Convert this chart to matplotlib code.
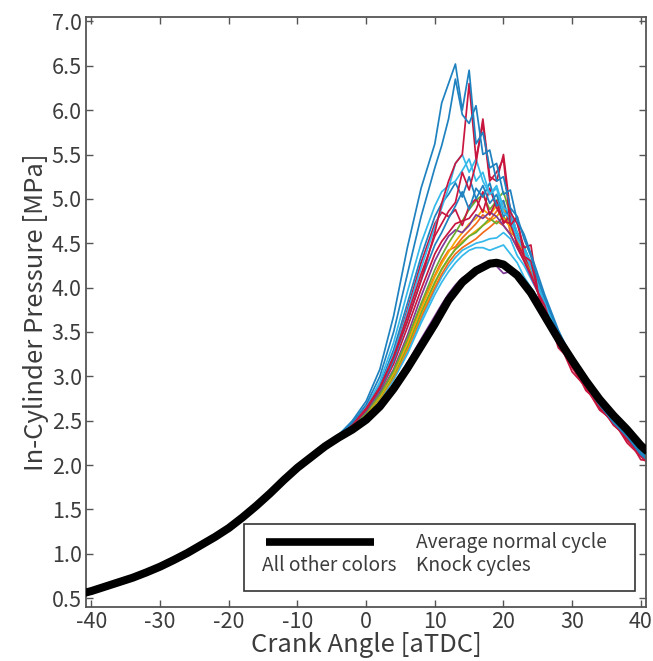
import matplotlib
matplotlib.use("Agg")
import matplotlib.pyplot as plt
from matplotlib.patches import Rectangle
from matplotlib.lines import Line2D

plt.rcParams['font.family'] = ['Noto Sans CJK JP', 'DejaVu Sans']

# ---------------- data ----------------
avg_x = [-41, -40, -38, -36, -34, -32, -30, -28, -26, -24, -22, -20, -18, -16, -14, -12, -10, -8, -6, -4, -2,
         0, 2, 4, 6, 8, 10, 12, 14, 16, 18, 19, 20, 22, 24, 26, 28, 30, 32, 34, 36, 38, 40, 41]
avg_p = [0.56, 0.58, 0.63, 0.68, 0.73, 0.79, 0.855, 0.93, 1.01, 1.10, 1.19, 1.29, 1.41, 1.54, 1.68, 1.83, 1.97,
         2.09, 2.21, 2.31, 2.40,
         2.51, 2.66, 2.86, 3.09, 3.34, 3.59, 3.86, 4.06, 4.19, 4.27, 4.28, 4.26, 4.14, 3.94, 3.68, 3.42, 3.18,
         2.95, 2.74, 2.56, 2.40, 2.22, 2.15]

knock_x = [-6, -4, -2, 0, 2, 4, 6, 8, 10, 11, 12, 13, 14, 15, 16, 17, 18, 19, 20, 21, 22, 23, 24, 25, 26,
           28, 30, 32, 34, 36, 38, 40, 41]

knock_12 = [2.21, 2.32, 2.42, 2.53, 2.68, 2.9, 3.15, 3.42, 3.68, 3.81, 3.93, 4.03, 4.11, 4.16, 4.2, 4.23, 4.24, 4.24, 4.16, 4.18, 4.1, 4.0, 3.9, 3.78, 3.65, 3.4, 3.14, 2.9, 2.7, 2.5, 2.33, 2.15, 2.08]
knock_18 = [2.21, 2.33, 2.43, 2.56, 2.73, 2.96, 3.25, 3.6, 3.92, 4.06, 4.18, 4.28, 4.36, 4.42, 4.45, 4.45, 4.42, 4.45, 4.48, 4.38, 4.28, 4.12, 4.0, 3.88, 3.72, 3.42, 3.14, 2.9, 2.68, 2.5, 2.33, 2.14, 2.08]
knock_11 = [2.21, 2.33, 2.43, 2.57, 2.74, 2.98, 3.28, 3.64, 3.97, 4.12, 4.24, 4.34, 4.42, 4.46, 4.5, 4.52, 4.55, 4.56, 4.62, 4.55, 4.36, 4.25, 4.1, 3.95, 3.76, 3.42, 3.14, 2.9, 2.68, 2.5, 2.33, 2.14, 2.08]
knock_19 = [2.21, 2.33, 2.43, 2.57, 2.75, 2.99, 3.3, 3.67, 4.0, 4.15, 4.28, 4.38, 4.45, 4.5, 4.55, 4.62, 4.68, 4.75, 4.7, 4.6, 4.45, 4.32, 4.16, 3.98, 3.78, 3.43, 3.14, 2.9, 2.68, 2.5, 2.32, 2.14, 2.08]
knock_10 = [2.21, 2.33, 2.43, 2.57, 2.75, 3.0, 3.32, 3.7, 4.04, 4.2, 4.32, 4.44, 4.52, 4.58, 4.64, 4.7, 4.75, 4.8, 4.9, 4.72, 4.62, 4.46, 4.26, 4.06, 3.85, 3.48, 3.17, 2.92, 2.7, 2.52, 2.35, 2.16, 2.1]
knock_15 = [2.21, 2.33, 2.43, 2.57, 2.76, 3.01, 3.34, 3.72, 4.06, 4.21, 4.33, 4.43, 4.5, 4.58, 4.62, 4.7, 4.78, 4.72, 4.8, 4.7, 4.5, 4.35, 4.18, 4.0, 3.8, 3.44, 3.15, 2.9, 2.69, 2.5, 2.33, 2.14, 2.08]
knock_14 = [2.21, 2.33, 2.44, 2.58, 2.78, 3.05, 3.4, 3.8, 4.14, 4.3, 4.42, 4.46, 4.56, 4.64, 4.72, 4.82, 4.76, 4.86, 4.98, 4.62, 4.56, 4.36, 4.2, 4.0, 3.8, 3.44, 3.14, 2.9, 2.68, 2.5, 2.32, 2.13, 2.07]
knock_9 = [2.21, 2.33, 2.44, 2.58, 2.77, 3.03, 3.37, 3.76, 4.12, 4.27, 4.4, 4.52, 4.62, 4.72, 4.78, 4.88, 4.82, 4.92, 4.78, 4.68, 4.52, 4.4, 4.2, 4.0, 3.8, 3.45, 3.15, 2.9, 2.7, 2.5, 2.33, 2.14, 2.08]
knock_7 = [2.21, 2.33, 2.44, 2.59, 2.8, 3.08, 3.46, 3.9, 4.3, 4.45, 4.58, 4.65, 4.62, 4.7, 4.82, 4.78, 4.85, 4.8, 4.7, 4.6, 4.45, 4.3, 4.12, 3.95, 3.75, 3.42, 3.14, 2.9, 2.68, 2.5, 2.33, 2.14, 2.08]
knock_8 = [2.21, 2.33, 2.44, 2.59, 2.79, 3.06, 3.42, 3.82, 4.2, 4.36, 4.5, 4.62, 4.75, 4.88, 4.98, 5.05, 4.88, 4.98, 5.08, 4.82, 4.62, 4.46, 4.25, 4.05, 3.82, 3.45, 3.16, 2.9, 2.7, 2.5, 2.34, 2.15, 2.09]
knock_6 = [2.22, 2.33, 2.45, 2.61, 2.83, 3.14, 3.55, 3.98, 4.38, 4.52, 4.62, 4.72, 4.75, 4.78, 4.88, 5.08, 4.82, 4.98, 4.72, 4.82, 4.46, 4.3, 4.15, 3.95, 3.75, 3.42, 3.1, 2.88, 2.64, 2.48, 2.28, 2.12, 2.06]
knock_17 = [2.22, 2.33, 2.45, 2.62, 2.87, 3.25, 3.75, 4.28, 4.72, 4.85, 4.8, 4.88, 4.7, 4.92, 5.0, 4.85, 5.12, 4.9, 4.75, 4.72, 4.5, 4.35, 4.22, 4.0, 3.78, 3.38, 3.1, 2.86, 2.66, 2.46, 2.3, 2.1, 2.04]
knock_5 = [2.22, 2.33, 2.45, 2.61, 2.84, 3.18, 3.62, 4.08, 4.48, 4.62, 4.78, 4.92, 5.08, 4.88, 5.12, 5.02, 5.18, 4.92, 4.98, 4.72, 4.62, 4.42, 4.26, 4.02, 3.82, 3.46, 3.16, 2.9, 2.7, 2.5, 2.34, 2.15, 2.08]
knock_20 = [2.22, 2.33, 2.46, 2.64, 2.9, 3.3, 3.82, 4.35, 4.8, 4.95, 5.05, 5.18, 5.02, 5.25, 5.0, 5.15, 4.95, 5.05, 4.8, 4.88, 4.6, 4.45, 4.28, 4.05, 3.85, 3.48, 3.17, 2.9, 2.68, 2.5, 2.33, 2.13, 2.06]
knock_16 = [2.22, 2.34, 2.47, 2.65, 2.94, 3.38, 3.95, 4.5, 4.92, 5.08, 5.15, 5.2, 5.32, 5.45, 5.2, 5.3, 5.05, 5.15, 4.9, 4.85, 4.62, 4.45, 4.28, 4.05, 3.85, 3.48, 3.16, 2.9, 2.68, 2.49, 2.32, 2.13, 2.06]
knock_4 = [2.22, 2.33, 2.46, 2.63, 2.88, 3.25, 3.72, 4.22, 4.68, 4.9, 5.12, 5.4, 5.5, 5.3, 5.45, 5.2, 5.05, 5.12, 4.85, 4.78, 4.55, 4.42, 4.22, 4.0, 3.8, 3.46, 3.16, 2.9, 2.68, 2.5, 2.33, 2.14, 2.08]
knock_13 = [2.22, 2.33, 2.45, 2.62, 2.86, 3.22, 3.68, 4.15, 4.58, 4.72, 4.86, 4.96, 5.3, 5.1, 5.4, 5.9, 5.25, 5.2, 5.5, 4.85, 4.72, 4.45, 4.48, 3.95, 3.8, 3.32, 3.16, 2.84, 2.7, 2.45, 2.32, 2.06, 2.05]
knock_3 = [2.22, 2.33, 2.46, 2.64, 2.88, 3.22, 3.62, 4.08, 4.62, 4.95, 5.2, 5.4, 5.5, 6.3, 5.45, 5.85, 5.2, 5.3, 5.45, 4.7, 4.8, 4.35, 4.3, 3.95, 3.62, 3.4, 3.05, 2.88, 2.62, 2.5, 2.25, 2.1, 2.02]
knock_2 = [2.22, 2.34, 2.48, 2.68, 3.0, 3.5, 4.15, 4.8, 5.35, 5.6, 5.9, 6.35, 5.95, 5.85, 6.05, 5.5, 5.55, 5.2, 5.25, 4.9, 4.8, 4.55, 4.35, 4.1, 3.88, 3.5, 3.18, 2.9, 2.68, 2.48, 2.32, 2.12, 2.05]
knock_1 = [2.22, 2.34, 2.5, 2.72, 3.08, 3.68, 4.45, 5.12, 5.62, 6.08, 6.3, 6.52, 6.0, 6.45, 5.62, 5.75, 5.35, 5.4, 5.05, 5.1, 4.75, 4.6, 4.38, 4.15, 3.92, 3.52, 3.2, 2.92, 2.7, 2.5, 2.33, 2.14, 2.07]

knock_series = [knock_12, knock_18, knock_11, knock_19, knock_10, knock_15, knock_14, knock_9, knock_7,
                knock_8, knock_6, knock_17, knock_5, knock_20, knock_16, knock_4, knock_13, knock_3,
                knock_2, knock_1]
knock_colors = ['#7e3a96', '#35b8ea', '#35b8ea', '#f26b1d', '#f5a700', '#6aad2f', '#f26b1d', '#f5a700',
                '#7e3a96', '#6aad2f', '#c8163e', '#c8163e', '#1f82c0', '#1f82c0', '#35b8ea', '#35b8ea',
                '#c8163e', '#c8163e', '#1f82c0', '#1f82c0']

x_ticks = [-40, -30, -20, -10, 0, 10, 20, 30, 40]
y_ticks = [0.5, 1.0, 1.5, 2.0, 2.5, 3.0, 3.5, 4.0, 4.5, 5.0, 5.5, 6.0, 6.5, 7.0]
x_label = 'Crank Angle [aTDC]'
y_label = 'In-Cylinder Pressure [MPa]'
legend_rows = [('Average normal cycle', None), ('All other colors', 'Knock cycles')]

# ---------------- figure ----------------
fig = plt.figure(figsize=(6.53, 6.61), dpi=100)
ax = fig.add_axes([0.1317, 0.0817, 0.8575, 0.8926])

for ys, c in zip(knock_series, knock_colors):
    ax.plot(knock_x, ys, color=c, lw=1.25, zorder=2)
ax.plot(avg_x, avg_p, color='black', lw=5.8, zorder=3, solid_capstyle='butt')

ax.set_xlim(-40.8, 40.75)
ax.set_ylim(0.40, 7.05)
ax.set_xticks(x_ticks)
ax.set_xticklabels([str(t) for t in x_ticks])
ax.set_yticks(y_ticks)
ax.set_yticklabels([f'{t:.1f}' for t in y_ticks])

txt_c = '#3c3c3c'
ax.tick_params(direction='in', length=5, width=1.0, color='#555555', top=True, right=True,
               labelsize=15.5, labelcolor=txt_c, pad=3)
for s in ax.spines.values():
    s.set_color('#555555')
    s.set_linewidth(1.3)

ax.set_xlabel(x_label, fontsize=18.5, color=txt_c, labelpad=-1)
ax.set_ylabel(y_label, fontsize=18.5, color=txt_c, labelpad=2)

# legend box
ax.add_patch(Rectangle((0.283, 0.027), 0.697, 0.113, transform=ax.transAxes, fill=True,
                       facecolor='white', edgecolor='#333333', lw=1.2, zorder=5))
ax.add_line(Line2D([0.321, 0.515], [0.110, 0.110], transform=ax.transAxes, color='black', lw=5.5,
                   solid_capstyle='butt', zorder=6))
ax.text(0.590, 0.110, legend_rows[0][0], transform=ax.transAxes, fontsize=13.8, color=txt_c,
        va='center', ha='left', zorder=6)
ax.text(0.314, 0.070, legend_rows[1][0], transform=ax.transAxes, fontsize=13.8, color=txt_c,
        va='center', ha='left', zorder=6)
ax.text(0.590, 0.070, legend_rows[1][1], transform=ax.transAxes, fontsize=13.8, color=txt_c,
        va='center', ha='left', zorder=6)

fig.savefig('out.png', dpi=100)
